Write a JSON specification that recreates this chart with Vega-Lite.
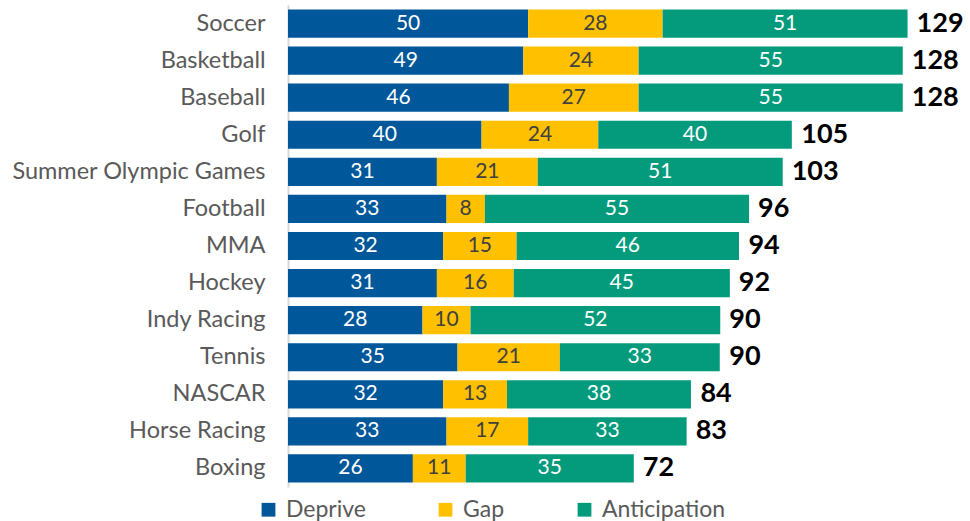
{
  "$schema": "https://vega.github.io/schema/vega-lite/v6.json",
  "width": 682,
  "height": 482,
  "autosize": {"type": "none"},
  "padding": {"left": 288, "top": 5, "right": 0, "bottom": 34},
  "config": {"view": {"stroke": null}, "font": "Lato"},
  "datasets": {
    "segments": [
      {"sport": "Soccer", "component": "Deprive", "o": 1, "value": 50},
      {"sport": "Soccer", "component": "Gap", "o": 2, "value": 28},
      {"sport": "Soccer", "component": "Anticipation", "o": 3, "value": 51},
      {"sport": "Basketball", "component": "Deprive", "o": 1, "value": 49},
      {"sport": "Basketball", "component": "Gap", "o": 2, "value": 24},
      {"sport": "Basketball", "component": "Anticipation", "o": 3, "value": 55},
      {"sport": "Baseball", "component": "Deprive", "o": 1, "value": 46},
      {"sport": "Baseball", "component": "Gap", "o": 2, "value": 27},
      {"sport": "Baseball", "component": "Anticipation", "o": 3, "value": 55},
      {"sport": "Golf", "component": "Deprive", "o": 1, "value": 40.3},
      {"sport": "Golf", "component": "Gap", "o": 2, "value": 24.3},
      {"sport": "Golf", "component": "Anticipation", "o": 3, "value": 40.3},
      {"sport": "Summer Olympic Games", "component": "Deprive", "o": 1, "value": 31},
      {"sport": "Summer Olympic Games", "component": "Gap", "o": 2, "value": 21},
      {"sport": "Summer Olympic Games", "component": "Anticipation", "o": 3, "value": 51},
      {"sport": "Football", "component": "Deprive", "o": 1, "value": 33},
      {"sport": "Football", "component": "Gap", "o": 2, "value": 8},
      {"sport": "Football", "component": "Anticipation", "o": 3, "value": 55},
      {"sport": "MMA", "component": "Deprive", "o": 1, "value": 32.3},
      {"sport": "MMA", "component": "Gap", "o": 2, "value": 15.3},
      {"sport": "MMA", "component": "Anticipation", "o": 3, "value": 46.3},
      {"sport": "Hockey", "component": "Deprive", "o": 1, "value": 31},
      {"sport": "Hockey", "component": "Gap", "o": 2, "value": 16},
      {"sport": "Hockey", "component": "Anticipation", "o": 3, "value": 45},
      {"sport": "Indy Racing", "component": "Deprive", "o": 1, "value": 28},
      {"sport": "Indy Racing", "component": "Gap", "o": 2, "value": 10},
      {"sport": "Indy Racing", "component": "Anticipation", "o": 3, "value": 52},
      {"sport": "Tennis", "component": "Deprive", "o": 1, "value": 35.3},
      {"sport": "Tennis", "component": "Gap", "o": 2, "value": 21.3},
      {"sport": "Tennis", "component": "Anticipation", "o": 3, "value": 33.3},
      {"sport": "NASCAR", "component": "Deprive", "o": 1, "value": 32.3},
      {"sport": "NASCAR", "component": "Gap", "o": 2, "value": 13.3},
      {"sport": "NASCAR", "component": "Anticipation", "o": 3, "value": 38.3},
      {"sport": "Horse Racing", "component": "Deprive", "o": 1, "value": 33},
      {"sport": "Horse Racing", "component": "Gap", "o": 2, "value": 17},
      {"sport": "Horse Racing", "component": "Anticipation", "o": 3, "value": 33},
      {"sport": "Boxing", "component": "Deprive", "o": 1, "value": 26},
      {"sport": "Boxing", "component": "Gap", "o": 2, "value": 11},
      {"sport": "Boxing", "component": "Anticipation", "o": 3, "value": 35}
    ],
    "totals": [
      {"sport": "Soccer", "total": 129},
      {"sport": "Basketball", "total": 128},
      {"sport": "Baseball", "total": 128},
      {"sport": "Golf", "total": 105},
      {"sport": "Summer Olympic Games", "total": 103},
      {"sport": "Football", "total": 96},
      {"sport": "MMA", "total": 94},
      {"sport": "Hockey", "total": 92},
      {"sport": "Indy Racing", "total": 90},
      {"sport": "Tennis", "total": 90},
      {"sport": "NASCAR", "total": 84},
      {"sport": "Horse Racing", "total": 83},
      {"sport": "Boxing", "total": 72}
    ]
  },
  "encoding": {
    "y": {
      "field": "sport",
      "type": "nominal",
      "sort": ["Soccer", "Basketball", "Baseball", "Golf", "Summer Olympic Games", "Football", "MMA", "Hockey", "Indy Racing", "Tennis", "NASCAR", "Horse Racing", "Boxing"],
      "scale": {"paddingInner": 0.24, "paddingOuter": 0.12},
      "axis": {
        "title": null,
        "ticks": false,
        "labelFontSize": 23.5,
        "labelColor": "#595959",
        "labelPadding": 23,
        "labelLimit": 300,
        "domainColor": "#d9d9d9",
        "domainWidth": 2,
        "labelFont": "Lato"
      }
    }
  },
  "layer": [
    {
      "data": {"name": "segments"},
      "mark": {"type": "bar"},
      "encoding": {
        "x": {"field": "value", "type": "quantitative", "stack": "zero", "scale": {"domain": [0, 142], "nice": false}, "axis": null},
        "order": {"field": "o", "type": "quantitative"},
        "color": {
          "field": "component",
          "type": "nominal",
          "scale": {"domain": ["Deprive", "Gap", "Anticipation"], "range": ["#00579A", "#FFC000", "#049B7D"]},
          "legend": {
            "title": null,
            "orient": "none",
            "direction": "horizontal",
            "legendX": -31,
            "legendY": 493,
            "symbolType": "square",
            "symbolSize": 190,
            "symbolStrokeWidth": 0,
            "labelFontSize": 23,
            "labelColor": "#595959",
            "labelFont": "Lato",
            "labelLimit": 300,
            "columnPadding": 68,
            "labelOffset": 6
          }
        }
      }
    },
    {
      "data": {"name": "segments"},
      "transform": [
        {"stack": "value", "groupby": ["sport"], "sort": [{"field": "o", "order": "ascending"}], "as": ["v0", "v1"]},
        {"calculate": "(datum.v0 + datum.v1) / 2", "as": "mid"}
      ],
      "mark": {"type": "text", "fontSize": 21, "baseline": "middle", "align": "center", "font": "Lato"},
      "encoding": {
        "x": {"field": "mid", "type": "quantitative"},
        "text": {"field": "value", "type": "quantitative", "format": ".0f"},
        "color": {
          "condition": {"test": "datum.component === 'Gap'", "value": "#404040"},
          "value": "white"
        }
      }
    },
    {
      "data": {"name": "totals"},
      "mark": {"type": "text", "fontSize": 27, "fontWeight": "bold", "align": "left", "baseline": "middle", "dx": 9, "color": "black", "font": "Lato"},
      "encoding": {
        "x": {"field": "total", "type": "quantitative"},
        "text": {"field": "total", "type": "quantitative"}
      }
    }
  ]
}
